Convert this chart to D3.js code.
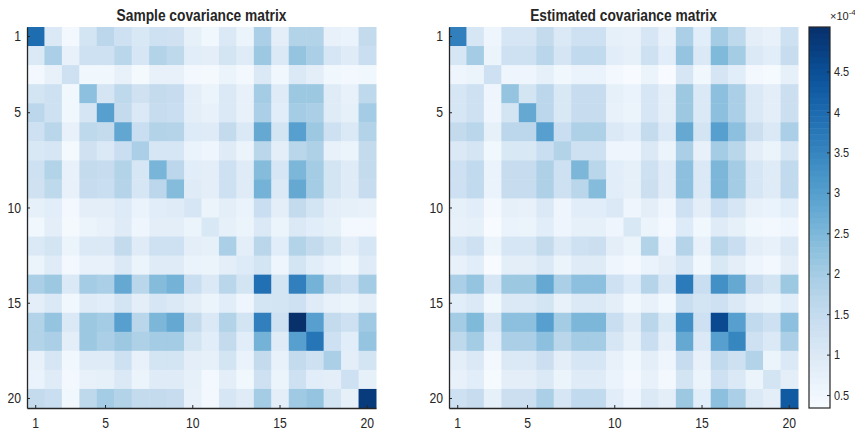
<!DOCTYPE html>
<html>
<head>
<meta charset="utf-8">
<script src="https://cdn.jsdelivr.net/npm/d3@7"></script>
<style>
  body { margin: 0; background: #fff; }
  svg text { font-family: "Liberation Sans Narrow", "Arial Narrow", "Liberation Sans", Arial, sans-serif; fill: #262626; }
</style>
</head>
<body>
<svg id="chart" width="855" height="432"></svg>
<script>
// Variable indices along both axes of each matrix
const indices = [1, 2, 3, 4, 5, 6, 7, 8, 9, 10, 11, 12, 13, 14, 15, 16, 17, 18, 19, 20];
const axisTicks = [1, 5, 10, 15, 20];
const colorTicks = [0.5, 1, 1.5, 2, 2.5, 3, 3.5, 4, 4.5];
const colorLimits = [0.34, 5.05];          // in units of 1e-4
const titles = ["Sample covariance matrix", "Estimated covariance matrix"];

// Packed lower triangles (row i holds columns 1..i), values in units of 1e-4
const sampleLower = [
  [3.95],
  [1.0, 1.9],
  [0.45, 0.7, 1.3],
  [1.2, 1.3, 0.5, 2.3],
  [1.65, 1.3, 0.5, 1.15, 3.0],
  [1.3, 1.7, 0.7, 1.6, 1.5, 2.85],
  [1.05, 1.1, 0.4, 1.25, 1.0, 1.4, 1.9],
  [1.3, 1.8, 0.7, 1.5, 1.45, 1.8, 1.1, 2.55],
  [1.25, 1.6, 0.7, 1.45, 1.4, 1.75, 1.1, 1.65, 2.4],
  [0.75, 0.85, 0.45, 0.8, 0.8, 0.95, 0.65, 0.85, 0.9, 1.1],
  [0.5, 0.8, 0.4, 0.6, 0.7, 0.9, 0.55, 0.8, 0.8, 0.6, 1.05],
  [1.0, 1.2, 0.6, 1.0, 1.0, 1.5, 0.9, 1.3, 1.3, 0.8, 0.75, 1.9],
  [0.6, 0.9, 0.45, 0.7, 0.7, 1.0, 0.6, 0.9, 0.9, 0.65, 0.6, 0.8, 0.95],
  [1.9, 2.1, 1.0, 2.0, 1.9, 2.8, 1.7, 2.4, 2.6, 1.4, 1.0, 1.7, 1.2, 3.9],
  [0.8, 1.0, 0.5, 0.9, 0.85, 1.2, 0.8, 1.1, 1.0, 0.8, 0.6, 0.85, 0.55, 1.2, 1.2],
  [1.8, 2.2, 1.0, 2.1, 2.0, 3.0, 1.7, 2.5, 2.8, 1.5, 1.0, 1.8, 1.2, 3.6, 1.3, 5.05],
  [1.8, 1.9, 0.8, 2.1, 1.9, 2.1, 1.85, 2.0, 2.0, 1.2, 0.85, 1.5, 0.85, 2.6, 0.9, 3.0, 3.8],
  [0.7, 1.1, 0.5, 0.9, 0.9, 1.3, 0.7, 1.2, 1.2, 0.8, 0.75, 1.2, 0.65, 1.5, 0.7, 1.5, 1.3, 1.9],
  [0.65, 0.9, 0.45, 0.7, 0.75, 1.0, 0.6, 0.9, 0.9, 0.75, 0.45, 0.8, 0.5, 1.3, 0.6, 1.3, 0.85, 0.8, 1.3],
  [1.5, 1.4, 0.5, 1.6, 2.0, 1.8, 1.5, 1.5, 1.45, 0.7, 0.45, 1.1, 0.9, 2.0, 0.8, 2.05, 2.2, 1.2, 0.75, 4.85]
];

const estimatedLower = [
  [3.6],
  [1.1, 2.0],
  [0.55, 0.6, 1.3],
  [1.1, 1.3, 0.55, 2.2],
  [1.1, 1.3, 0.55, 1.2, 2.8],
  [1.5, 1.7, 0.75, 1.65, 1.65, 3.0],
  [1.0, 1.15, 0.5, 1.05, 1.05, 1.4, 1.8],
  [1.3, 1.55, 0.65, 1.45, 1.45, 1.85, 1.3, 2.5],
  [1.3, 1.55, 0.65, 1.45, 1.45, 1.85, 1.3, 1.7, 2.4],
  [0.75, 0.85, 0.45, 0.75, 0.7, 1.0, 0.55, 0.85, 0.85, 1.0],
  [0.7, 0.75, 0.34, 0.65, 0.6, 0.85, 0.55, 0.75, 0.75, 0.55, 1.05],
  [1.1, 1.3, 0.6, 1.1, 1.1, 1.5, 1.0, 1.3, 1.35, 0.8, 0.6, 1.8],
  [0.7, 0.85, 0.35, 0.8, 0.8, 1.0, 0.6, 0.9, 0.9, 0.55, 0.45, 0.65, 0.8],
  [1.9, 2.2, 1.1, 2.1, 2.1, 2.8, 1.9, 2.3, 2.3, 1.3, 0.95, 1.75, 1.1, 3.7],
  [0.85, 1.0, 0.5, 1.0, 1.0, 1.2, 0.7, 1.0, 1.0, 0.8, 0.5, 0.7, 0.5, 1.4, 1.2],
  [2.0, 2.45, 1.15, 2.3, 2.3, 3.0, 2.0, 2.5, 2.5, 1.4, 0.9, 1.7, 1.05, 3.3, 1.3, 4.6],
  [1.6, 2.0, 0.85, 1.9, 1.9, 2.3, 1.7, 2.0, 2.0, 1.1, 0.75, 1.4, 0.8, 2.8, 1.0, 3.0, 3.5],
  [0.8, 1.0, 0.45, 1.0, 1.0, 1.35, 0.8, 1.1, 1.1, 0.7, 0.5, 0.8, 0.55, 1.45, 0.7, 1.55, 1.3, 1.8],
  [0.7, 0.85, 0.38, 0.8, 0.8, 1.0, 0.6, 0.9, 0.9, 0.65, 0.45, 0.7, 0.45, 1.2, 0.6, 1.3, 1.0, 0.6, 1.2],
  [1.3, 1.45, 0.75, 1.35, 1.35, 1.9, 1.1, 1.55, 1.55, 0.85, 0.55, 1.0, 0.8, 2.1, 0.85, 2.3, 1.9, 1.0, 0.8, 4.3]
];

// Expand a packed lower triangle into a list of cells of the symmetric matrix
function cellsOf(lower) {
  const cells = [];
  indices.forEach((r, i) => {
    indices.forEach((c, j) => {
      const v = j <= i ? lower[i][j] : lower[j][i];
      cells.push({ row: r, col: c, value: v });
    });
  });
  return cells;
}

// Condense a text element horizontally (narrow face look)
function condense(sel, factor) {
  sel.each(function () {
    const w = this.getComputedTextLength();
    if (w > 0) {
      d3.select(this).attr("textLength", w * factor).attr("lengthAdjust", "spacingAndGlyphs");
    }
  });
}

const svg = d3.select("#chart");
const axisColor = "#262626";
const plotTop = 27, plotBottom = 408;
const narrow = 0.84;
const panels = [
  { left: 27, right: 376, cells: cellsOf(sampleLower), title: titles[0] },
  { left: 449, right: 798, cells: cellsOf(estimatedLower), title: titles[1] }
];

const color = d3.scaleSequential(d3.interpolateBlues).domain(colorLimits);

panels.forEach(p => {
  const x = d3.scaleBand().domain(indices).range([p.left, p.right]);
  const y = d3.scaleBand().domain(indices).range([plotTop, plotBottom]);
  const g = svg.append("g");

  g.selectAll("rect.cell")
    .data(p.cells)
    .join("rect")
    .attr("class", "cell")
    .attr("x", d => x(d.col))
    .attr("y", d => y(d.row))
    .attr("width", x.bandwidth() + 0.5)
    .attr("height", y.bandwidth() + 0.5)
    .attr("fill", d => color(d.value));

  const xAxis = g.append("g")
    .attr("transform", `translate(0,${plotBottom})`)
    .call(d3.axisBottom(x).tickValues(axisTicks).tickSizeInner(-3).tickSizeOuter(0).tickPadding(10));
  const yAxis = g.append("g")
    .attr("transform", `translate(${p.left},0)`)
    .call(d3.axisLeft(y).tickValues(axisTicks).tickSizeInner(-3).tickSizeOuter(0).tickPadding(6));

  [xAxis, yAxis].forEach(a => {
    a.select(".domain").attr("stroke", axisColor).attr("stroke-width", 1.3);
    a.selectAll(".tick line").attr("stroke", axisColor).attr("stroke-width", 1);
    a.selectAll(".tick text").attr("font-size", 14.5).attr("fill", axisColor).call(condense, narrow);
  });

  g.append("text")
    .attr("x", (p.left + p.right) / 2)
    .attr("y", 21)
    .attr("text-anchor", "middle")
    .attr("font-size", 16)
    .attr("font-weight", "bold")
    .attr("fill", "#000")
    .text(p.title)
    .call(condense, 0.86);
});

// Colour bar
const cbLeft = 809, cbRight = 830;
const cbScale = d3.scaleLinear().domain(colorLimits).range([plotBottom, plotTop]);
const steps = 64;
const stepVals = d3.range(steps).map(i => colorLimits[0] + (i + 0.5) * (colorLimits[1] - colorLimits[0]) / steps);
const stepH = (plotBottom - plotTop) / steps;
const cb = svg.append("g");
cb.selectAll("rect")
  .data(stepVals)
  .join("rect")
  .attr("x", cbLeft)
  .attr("width", cbRight - cbLeft)
  .attr("y", d => cbScale(d) - stepH / 2)
  .attr("height", stepH + 0.5)
  .attr("fill", d => color(d));
cb.append("rect")
  .attr("x", cbLeft).attr("y", plotTop)
  .attr("width", cbRight - cbLeft).attr("height", plotBottom - plotTop)
  .attr("fill", "none").attr("stroke", axisColor).attr("stroke-width", 1.2);

const cbAxis = cb.append("g")
  .attr("transform", `translate(${cbRight},0)`)
  .call(d3.axisRight(cbScale).tickValues(colorTicks).tickSizeInner(-3).tickSizeOuter(0).tickPadding(4)
    .tickFormat(d3.format("")));
cbAxis.select(".domain").remove();
cbAxis.selectAll(".tick line").attr("stroke", axisColor);
cbAxis.selectAll(".tick text").attr("font-size", 13).attr("fill", axisColor).call(condense, narrow);

// Exponent label above the colour bar
const expo = svg.append("text")
  .attr("x", 830).attr("y", 20)
  .attr("font-size", 11).attr("fill", axisColor);
expo.append("tspan").text("\u00d710");
expo.append("tspan").attr("font-size", 8).attr("dy", -5).text("-4");
</script>
</body>
</html>
